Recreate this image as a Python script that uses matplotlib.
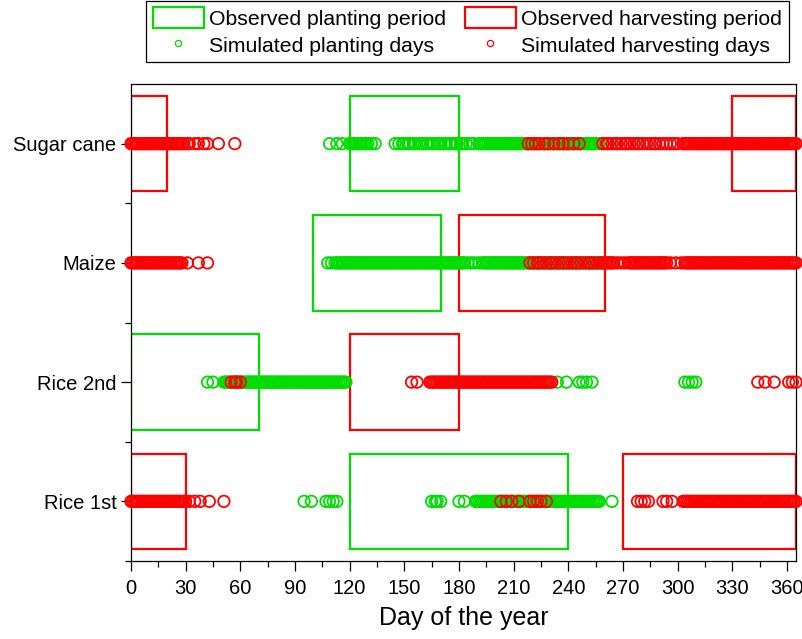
import matplotlib.pyplot as plt
from matplotlib.patches import Rectangle, Patch
from matplotlib.lines import Line2D

plt.rcParams['font.family'] = ['Liberation Sans', 'DejaVu Sans']

GREEN = '#00dd00'
RED = '#ff0000'

crops = ['Rice 1st', 'Rice 2nd', 'Maize', 'Sugar cane']

# observed periods (start day, end day) per crop
obs_planting = {
    'Rice 1st': [(120, 240)],
    'Rice 2nd': [(0, 70)],
    'Maize': [(100, 170)],
    'Sugar cane': [(120, 180)],
}
obs_harvesting = {
    'Rice 1st': [(0, 30), (270, 365)],
    'Rice 2nd': [(120, 180)],
    'Maize': [(180, 260)],
    'Sugar cane': [(0, 20), (330, 365)],
}

# simulated days
rice1_plant = [95, 99, 107, 109, 111, 113, 165, 167, 168, 170, 180, 183,
               189, 190, 191, 192, 193, 194, 195, 196, 197, 198, 199, 200, 201, 202, 203, 204, 205, 206,
               207, 208, 209, 210, 211, 212, 213, 214, 215, 216, 217, 218, 219, 220, 221, 222, 223, 224,
               225, 226, 227, 228, 229, 230, 231, 232, 233, 234, 235, 236, 237, 238, 239, 240, 241, 242,
               243, 244, 245, 246, 247, 248, 249, 250, 251, 252, 253, 254, 255, 256, 257, 264]
rice1_harv = [0, 1, 2, 3, 4, 5, 6, 7, 8, 9, 10, 11, 12, 13, 14, 15, 16, 17, 18, 19, 20, 21, 22, 23,
              24, 25, 26, 27, 28, 29, 30, 32, 35, 38, 43, 51,
              203, 206, 209, 213, 219, 221, 223, 225, 228,
              278, 280, 282, 284, 292, 294, 297,
              303, 304, 305, 306, 307, 308, 309, 310, 311, 312, 313, 314, 315, 316, 317, 318, 319, 320,
              321, 322, 323, 324, 325, 326, 327, 328, 329, 330, 331, 332, 333, 334, 335, 336, 337, 338,
              339, 340, 341, 342, 343, 344, 345, 346, 347, 348, 349, 350, 351, 352, 353, 354, 355, 356,
              357, 358, 359, 360, 361, 362, 363, 364, 365]

rice2_plant = [42, 45, 51, 52, 53, 54, 55, 56, 57, 58, 59, 60, 61, 62, 63, 64, 65, 66, 67, 68, 69, 70,
               71, 72, 73, 74, 75, 76, 77, 78, 79, 80, 81, 82, 83, 84, 85, 86, 87, 88, 89, 90, 91, 92,
               93, 94, 95, 96, 97, 98, 99, 100, 101, 102, 103, 104, 105, 106, 107, 108, 109, 110, 111,
               112, 113, 114, 115, 116, 117, 118,
               234, 239, 246, 248, 250, 253, 304, 306, 308, 310]
rice2_harv = [55, 57, 58, 60, 154, 157,
              164, 165, 166, 167, 168, 169, 170, 171, 172, 173, 174, 175, 176, 177, 178, 179, 180, 181,
              182, 183, 184, 185, 186, 187, 188, 189, 190, 191, 192, 193, 194, 195, 196, 197, 198, 199,
              200, 201, 202, 203, 204, 205, 206, 207, 208, 209, 210, 211, 212, 213, 214, 215, 216, 217,
              218, 219, 220, 221, 222, 223, 224, 225, 226, 227, 228, 229, 230, 231,
              344, 348, 353, 361, 363, 365]

maize_plant = [108, 110, 112,
               113, 114, 115, 116, 117, 118, 119, 120, 121, 122, 123, 124, 125, 126, 127, 128, 129, 130,
               131, 132, 133, 134, 135, 136, 137, 138, 139, 140, 141, 142, 143, 144, 145, 146, 147, 148,
               149, 150, 151, 152, 153, 154, 155, 156, 157, 158, 159, 160, 161, 162, 163, 164, 165, 166,
               167, 168, 169, 170, 171, 172, 173, 174, 175, 176, 177, 178, 179, 180, 181, 182, 183, 185,
               187, 189, 191, 193, 194, 195, 196, 197, 198, 199, 200, 201, 202, 203, 204, 205, 206, 207,
               208, 209, 210, 211, 212, 213, 214, 215, 216, 217, 218, 219, 220, 221, 222, 223, 224, 225,
               226, 227, 228, 229, 230, 231, 232, 233, 234, 235, 236, 237, 238, 239, 240, 241, 242, 243,
               244, 245, 246, 247, 248, 249, 250, 251, 252, 253, 254, 255, 256, 257, 258]
maize_harv = [0, 1, 2, 3, 4, 5, 6, 7, 8, 9, 10, 11, 12, 13, 14, 15, 16, 17, 18, 19, 20, 21, 22, 23,
              24, 25, 26, 27, 28, 31, 37, 42,
              219, 221, 223, 224, 226, 228, 230, 231, 233, 235, 237, 238, 240, 242, 244, 245, 247, 249,
              251, 252, 254, 256, 258, 259, 260, 261, 262, 263, 264, 265, 267, 269, 271, 273,
              274, 275, 276, 277, 278, 279, 280, 281, 282, 283, 284, 285, 286, 287, 288, 289, 290, 291,
              292, 293, 294, 296, 299, 302,
              304, 305, 306, 307, 308, 309, 310, 311, 312, 313, 314, 315, 316, 317, 318, 319, 320, 321,
              322, 323, 324, 325, 326, 327, 328, 329, 330, 331, 332, 333, 334, 335, 336, 337, 338, 339,
              340, 341, 342, 343, 344, 345, 346, 347, 348, 349, 350, 351, 352, 353, 354, 355, 356, 357,
              358, 359, 360, 361, 362, 363, 364, 365]

sugar_plant = [109, 113, 116, 120, 121, 122, 123, 124, 125, 126, 127, 128, 129, 130, 132, 134,
               145, 147, 149, 150, 152, 153, 155, 156, 158, 159, 160, 162, 163, 165, 166, 168, 169, 170,
               172, 173, 175, 176, 178, 179, 181, 182, 184, 186, 188,
               191, 192, 193, 194, 195, 196, 197, 198, 199, 200, 201, 202, 203, 204, 205, 206, 207, 208,
               209, 210, 211, 212, 213, 214, 215, 216, 217, 218, 219, 220, 221, 222, 223, 224, 225, 226,
               227, 228, 229, 230, 231, 232, 233, 234, 235, 236, 237, 238, 239, 240, 241, 242, 243, 244,
               245, 246, 247, 248, 249, 250, 251, 252, 253, 254, 255, 257, 259]
sugar_harv = [0, 1, 2, 3, 4, 5, 6, 7, 8, 9, 10, 11, 12, 13, 14, 15, 16, 17, 18, 19, 20, 21, 22, 23,
              24, 25, 26, 27, 28, 29, 31, 32, 35, 37, 40, 42, 48, 57,
              218, 220, 222, 224, 227, 229, 232, 235, 237, 240, 243, 246,
              259, 261, 262, 264, 266, 267, 269, 271, 272, 274, 276, 278, 279, 281, 283, 285, 287, 288,
              290, 292, 294, 296, 298, 300,
              303, 304, 305, 306, 307, 308, 309, 310, 311, 312, 313, 314, 315, 316, 317, 318, 319, 320,
              321, 322, 323, 324, 325, 326, 327, 328, 329, 330, 331, 332, 333, 334, 335, 336, 337, 338,
              339, 340, 341, 342, 343, 344, 345, 346, 347, 348, 349, 350, 351, 352, 353, 354, 355, 356,
              357, 358, 359, 360, 361, 362, 363, 364, 365]

sim_planting = [rice1_plant, rice2_plant, maize_plant, sugar_plant]
sim_harvesting = [rice1_harv, rice2_harv, maize_harv, sugar_harv]

x_ticks = [0, 30, 60, 90, 120, 150, 180, 210, 240, 270, 300, 330, 360]

fig = plt.figure(figsize=(8.03, 6.39), dpi=100)
ax = fig.add_axes([0.1631, 0.1221, 0.8282, 0.7464])

half = 0.4
for i, crop in enumerate(crops):
    y = i + 1
    for s, e in obs_planting[crop]:
        ax.add_patch(Rectangle((s, y - half), e - s, 2 * half, fill=False,
                               edgecolor=GREEN, lw=1.6, zorder=2))
    for s, e in obs_harvesting[crop]:
        ax.add_patch(Rectangle((s, y - half), e - s, 2 * half, fill=False,
                               edgecolor=RED, lw=1.6, zorder=2))

for i in range(len(crops)):
    y = i + 1
    ax.scatter(sim_planting[i], [y] * len(sim_planting[i]), s=68, facecolors='none',
               edgecolors=GREEN, linewidths=1.3, zorder=3, clip_on=False)
for i in range(len(crops)):
    y = i + 1
    ax.scatter(sim_harvesting[i], [y] * len(sim_harvesting[i]), s=68, facecolors='none',
               edgecolors=RED, linewidths=1.3, zorder=4, clip_on=False)

ax.set_xlim(0, 365)
ax.set_ylim(0.5, 4.5)
ax.set_xticks(x_ticks)
ax.set_xticks([t + 15 for t in x_ticks[:-1]], minor=True)
ax.set_yticks(range(1, len(crops) + 1))
ax.set_yticklabels(crops)
ax.set_yticks([0.5, 1.5, 2.5, 3.5], minor=True)
ax.tick_params(axis='both', which='major', direction='out', length=7, width=0.9,
               labelsize=14.5, colors='black')
ax.tick_params(axis='both', which='minor', direction='out', length=4, width=0.9)
ax.tick_params(axis='x', pad=6)
for sp in ax.spines.values():
    sp.set_linewidth(0.9)
ax.set_xlabel('Day of the year', fontsize=18, labelpad=6)

handles = [
    Patch(facecolor='none', edgecolor=GREEN, lw=1.6),
    Line2D([], [], ls='none', marker='o', markersize=4.5, markerfacecolor='none',
           markeredgecolor=GREEN, markeredgewidth=0.9),
    Patch(facecolor='none', edgecolor=RED, lw=1.6),
    Line2D([], [], ls='none', marker='o', markersize=4.5, markerfacecolor='none',
           markeredgecolor=RED, markeredgewidth=0.9),
]
labels = ['Observed planting period', 'Simulated planting days',
          'Observed harvesting period', 'Simulated harvesting days']
leg = fig.legend(handles, labels, ncol=2, loc='upper left', bbox_to_anchor=(0.182, 0.999),
                 fontsize=15.3, frameon=True, fancybox=False, edgecolor='black', framealpha=1,
                 handlelength=2.4, handleheight=1.15, handletextpad=0.25, columnspacing=0.9,
                 borderpad=0.3, labelspacing=0.25, borderaxespad=0)
leg.get_frame().set_linewidth(0.9)

fig.savefig('out.png', dpi=100)
